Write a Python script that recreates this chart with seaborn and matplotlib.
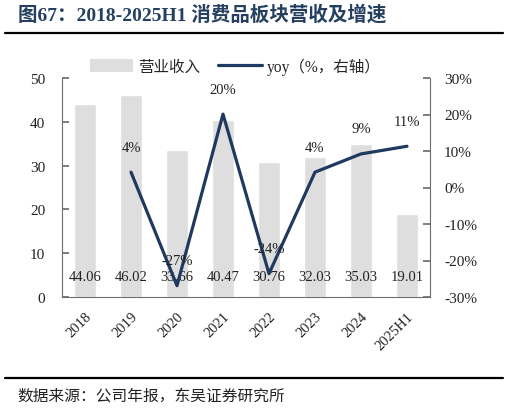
import numpy as np
import pandas as pd
import matplotlib
matplotlib.use("Agg")
import matplotlib.pyplot as plt
from matplotlib.lines import Line2D
from matplotlib.patches import Patch
from matplotlib.ticker import FuncFormatter
import seaborn as sns

# ============= 数据 =============
years = ['2018', '2019', '2020', '2021', '2022', '2023', '2024', '2025H1']
revenue = [44.06, 46.02, 33.66, 40.47, 30.76, 32.03, 35.03, 19.01]
yoy_years = ['2019', '2020', '2021', '2022', '2023', '2024', '2025H1']
yoy = [4.2, -26.9, 20.1, -23.6, 4.2, 9.2, 11.3]
yoy_labels = ['4%', '-27%', '20%', '-24%', '4%', '9%', '11%']

# ============= 样式 =============
sns.set_theme(style="white")
plt.rcParams['font.family'] = ['Liberation Serif', 'Noto Sans CJK SC']
plt.rcParams['axes.unicode_minus'] = False

BAR_COLOR = '#dedede'
LINE_COLOR = '#1f3a60'
TITLE_COLOR = '#243f60'
SPINE_COLOR = '#6e6e6e'

fig = plt.figure(figsize=(5.09, 4.14), dpi=100)
W, H = 509, 414
ax = fig.add_axes([62 / W, 1 - 298 / H, 368 / W, 219 / H])

df = pd.DataFrame({'year': years, 'revenue': revenue})
sns.barplot(data=df, x='year', y='revenue', color=BAR_COLOR, width=0.48,
            saturation=1, ax=ax)
ax.set_xlim(-0.5, len(years) - 0.5)
ax.set_ylim(0, 50)
ax.set_yticks(range(0, 51, 10))
ax.set_xlabel('')
ax.set_ylabel('')

# 柱子数值标签（底部）
for i, v in enumerate(revenue):
    ax.text(i, 4.6, f'{v:.2f}', ha='center', va='center', fontsize=10.5, color='#222222')

# 折线（右轴）
ax2 = ax.twinx()
xpos = [years.index(y) for y in yoy_years]
line_df = pd.DataFrame({'x': xpos, 'yoy': yoy})
sns.lineplot(data=line_df, x='x', y='yoy', color=LINE_COLOR, linewidth=2.3, ax=ax2)
ax2.set_ylim(-30, 30)
ax2.set_yticks(range(-30, 31, 10))
ax2.yaxis.set_major_formatter(FuncFormatter(lambda v, p: f'{int(v)}%'))
ax2.set_xlabel('')
ax2.set_ylabel('')
for x, v, lab in zip(xpos, yoy, yoy_labels):
    ax2.annotate(lab, (x, v), xytext=(0, 18), textcoords='offset points',
                 ha='center', va='center', fontsize=10.5, color='#222222')

# 轴线与刻度
for a in (ax, ax2):
    for s in a.spines.values():
        s.set_color(SPINE_COLOR)
        s.set_linewidth(0.8)
    a.spines['top'].set_visible(False)
ax.spines['right'].set_visible(False)
ax2.spines['left'].set_visible(False)
ax2.spines['bottom'].set_visible(False)

ax.set_xticks(np.arange(len(years)))
ax.set_xticklabels(years, rotation=45, ha='right', rotation_mode='anchor')
ax.tick_params(axis='x', length=0, pad=9, labelsize=10.5, colors='#222222')
ax.set_xticks(np.arange(len(years) + 1) - 0.5, minor=True)
ax.tick_params(axis='x', which='minor', direction='in', length=5, color=SPINE_COLOR)
ax.tick_params(axis='y', direction='in', length=5, pad=12, labelsize=11,
               colors='#222222', color=SPINE_COLOR)
ax2.tick_params(axis='y', direction='in', length=5, pad=10, labelsize=11,
                colors='#222222', color=SPINE_COLOR)
for a in (ax, ax2):
    for t in a.get_yticklabels():
        t.set_color('#222222')

# 图例
handles = [Patch(facecolor=BAR_COLOR, edgecolor='none'),
           Line2D([0], [0], color=LINE_COLOR, lw=2.3)]
fig.legend(handles, ['营业收入', 'yoy（%，右轴）'], ncol=2, frameon=False,
           loc='center', bbox_to_anchor=(235 / W, 1 - 67 / H),
           fontsize=11.2, handlelength=2.8, handleheight=0.9,
           columnspacing=1.2, handletextpad=0.3)

# 标题与来源
fig.text(18 / W, 1 - 15 / H, '图67：2018-2025H1 消费品板块营收及增速',
         ha='left', va='center', fontsize=14, fontweight='bold', color=TITLE_COLOR)
fig.add_artist(Line2D([5 / W, 503 / W], [1 - 34 / H] * 2, color='black', lw=1.6))
fig.add_artist(Line2D([5 / W, 503 / W], [1 - 379 / H] * 2, color='black', lw=1.6))
fig.text(17 / W, 1 - 397 / H, '数据来源：公司年报，东吴证券研究所',
         ha='left', va='center', fontsize=11.3, color='#222222')

fig.savefig('out.png', dpi=100)
